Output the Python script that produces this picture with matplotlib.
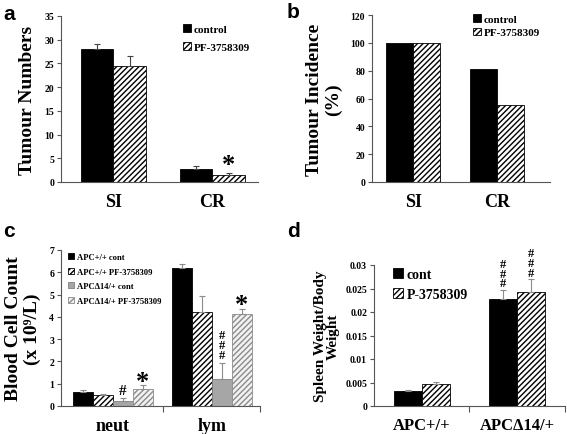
import numpy as np
import matplotlib
matplotlib.use("Agg")
import matplotlib.pyplot as plt

plt.rcParams['font.family'] = ['Liberation Serif', 'DejaVu Serif']
plt.rcParams['font.weight'] = 'bold'
plt.rcParams['axes.labelweight'] = 'bold'
plt.rcParams['hatch.linewidth'] = 1.0

# panel a - tumour numbers
sites = ['SI', 'CR']
a_control = [28.0, 2.7]
a_control_err = [1.2, 0.6]
a_pf = [24.4, 1.5]
a_pf_err = [2.2, 0.3]

# panel b - tumour incidence (%)
b_control = [100, 81]
b_pf = [100, 55.5]

# panel c - blood cell counts
cells = ['neut', 'lym']
c_labels = ['APC+/+ cont', 'APC+/+ PF-3758309', 'APCΔ14/+ cont', 'APCΔ14/+ PF-3758309']
c_values = [[0.62, 6.2], [0.50, 4.2], [0.22, 1.22], [0.75, 4.12]]
c_errors = [[0.08, 0.15], [0.03, 0.75], [0.15, 0.72], [0.20, 0.25]]

# panel d - spleen weight / body weight
genotypes = ['APC+/+', 'APCΔ14/+']
d_cont = [0.0032, 0.0227]
d_cont_err = [0.0003, 0.0020]
d_pf = [0.0046, 0.0243]
d_pf_err = [0.0006, 0.0027]

fig = plt.figure(figsize=(5.67, 4.35), dpi=100)
W, H = 567, 435


def make_axes(left, right, top, bottom):
    ax = fig.add_axes([left / W, 1 - bottom / H, (right - left) / W, (bottom - top) / H])
    ax.spines['top'].set_visible(False)
    ax.spines['right'].set_visible(False)
    for s in ['left', 'bottom']:
        ax.spines[s].set_color('#555555')
        ax.spines[s].set_linewidth(0.8)
    ax.tick_params(axis='y', labelsize=7, length=3, width=0.8, color='#555555', pad=2)
    ax.tick_params(axis='x', labelsize=13, length=0, pad=8)
    return ax


def up_err(e):
    e = np.asarray(e)
    return [np.zeros_like(e), e]


def hashes(ax, xpos, y, size=9):
    # three '#' stacked upright, as in the original
    ax.text(xpos, y, '#\n#\n#', ha='center', va='bottom', fontsize=size, linespacing=0.75)


ekw = dict(ecolor='#444444', elinewidth=0.8, capsize=2, capthick=0.8)

# ---- a ----
ax = make_axes(61, 258, 17, 183)
x = np.arange(2)
w = 0.33
ax.bar(x - w / 2, a_control, w, color='black', edgecolor='black', linewidth=0.6,
       yerr=up_err(a_control_err), error_kw=ekw, label='control')
ax.bar(x + w / 2, a_pf, w, color='white', edgecolor='black', linewidth=0.6, hatch='//////',
       yerr=up_err(a_pf_err), error_kw=ekw, label='PF-3758309')
ax.set_xlim(-0.53, 1.46)
ax.set_ylim(0, 35)
ax.set_yticks(range(0, 36, 5))
ax.set_xticks(x)
ax.set_xticklabels(sites)
ax.set_ylabel('Tumour Numbers', fontsize=14, labelpad=6)
ax.text(1 + w / 2, a_pf[1] + a_pf_err[1] - 0.6, '*', ha='center', va='bottom', fontsize=19)
ax.legend(loc='upper right', fontsize=8, frameon=False, handlelength=0.7, handleheight=0.7,
          handletextpad=0.3, borderaxespad=0.3, labelspacing=0.8, bbox_to_anchor=(1.0, 1.0))
fig.text(3 / W, 1 - 14 / H, 'a', fontsize=15, fontweight='bold', family='Liberation Sans', va='center')

# ---- b ----
ax = make_axes(372, 550, 16, 183)
w = 0.32
ax.bar(x - w / 2, b_control, w, color='black', edgecolor='black', linewidth=0.6, label='control')
ax.bar(x + w / 2, b_pf, w, color='white', edgecolor='black', linewidth=0.6, hatch='//////',
       label='PF-3758309')
ax.set_xlim(-0.49, 1.63)
ax.set_ylim(0, 120)
ax.set_yticks(range(0, 121, 20))
ax.set_xticks(x)
ax.set_xticklabels(sites)
ax.set_ylabel('Tumour Incidence\n(%)', fontsize=14, labelpad=6, linespacing=1.1)
ax.legend(loc='upper right', fontsize=8, frameon=False, handlelength=0.7, handleheight=0.7,
          handletextpad=0.3, borderaxespad=0.0, labelspacing=0.3, bbox_to_anchor=(0.97, 1.03))
fig.text(287 / W, 1 - 12 / H, 'b', fontsize=15, fontweight='bold', family='Liberation Sans', va='center')

# ---- c ----
ax = make_axes(61, 260, 251, 407)
w = 0.2
styles = [dict(color='black', edgecolor='black', hatch=None),
          dict(color='white', edgecolor='black', hatch='//////'),
          dict(color='#a6a6a6', edgecolor='#7f7f7f', hatch=None),
          dict(color='#f2f2f2', edgecolor='#8c8c8c', hatch='//////')]
for i in range(4):
    ax.bar(x + (i - 1.5) * w, c_values[i], w, linewidth=0.6, yerr=up_err(c_errors[i]),
           error_kw=dict(ecolor='#8c8c8c', elinewidth=0.8, capsize=2, capthick=0.8),
           label=c_labels[i], **styles[i])
ax.set_xlim(-0.525, 1.485)
ax.set_ylim(0, 7)
ax.set_yticks(range(0, 8))
ax.set_xticks(x)
ax.set_xticklabels(cells)
ax.set_xticks([0.505, 1.485], minor=True)
ax.tick_params(axis='x', which='minor', length=4, width=0.8, color='#555555', direction='out')
ax.set_ylabel('Blood Cell Count\n(x 10⁹/L)', fontsize=14, labelpad=6, linespacing=1.1)
ax.text(0.5 * w, c_values[2][0] + c_errors[2][0] + 0.05, '#', ha='center', va='bottom', fontsize=11)
ax.text(1.5 * w, c_values[3][0] + c_errors[3][0] - 0.35, '*', ha='center', va='bottom', fontsize=19)
hashes(ax, 1 + 0.5 * w, c_values[2][1] + c_errors[2][1] + 0.1)
ax.text(1 + 1.5 * w, c_values[3][1] + c_errors[3][1] - 0.35, '*', ha='center', va='bottom', fontsize=19)
ax.legend(loc='upper left', fontsize=6.2, frameon=False, handlelength=0.7, handleheight=0.7,
          handletextpad=0.3, borderaxespad=0.0, labelspacing=0.75, bbox_to_anchor=(0.02, 1.0))
fig.text(3 / W, 1 - 232 / H, 'c', fontsize=15, fontweight='bold', family='Liberation Sans', va='center')

# ---- d ----
ax = make_axes(374, 565, 266, 407)
w = 0.29
ax.bar(x - w / 2, d_cont, w, color='black', edgecolor='black', linewidth=0.6,
       yerr=up_err(d_cont_err), error_kw=dict(ekw, ecolor='#8c8c8c'), label='cont')
ax.bar(x + w / 2, d_pf, w, color='white', edgecolor='black', linewidth=0.6, hatch='//////',
       yerr=up_err(d_pf_err), error_kw=dict(ekw, ecolor='#8c8c8c'), label='P-3758309')
ax.set_xlim(-0.505, 1.505)
ax.set_ylim(0, 0.03)
ax.set_yticks([0, 0.005, 0.01, 0.015, 0.02, 0.025, 0.03])
ax.set_yticklabels(['0', '0.005', '0.01', '0.015', '0.02', '0.025', '0.03'])
ax.set_xticks(x)
ax.set_xticklabels(genotypes)
ax.set_xticks([0.5, 1.505], minor=True)
ax.tick_params(axis='x', which='minor', length=4, width=0.8, color='#555555', direction='out')
ax.tick_params(axis='x', labelsize=12)
ax.set_ylabel('Spleen Weight/Body\nWeight', fontsize=11, labelpad=4, linespacing=1.0)
hashes(ax, 1 - w / 2, d_cont[1] + d_cont_err[1] + 0.0001)
hashes(ax, 1 + w / 2, d_pf[1] + d_pf_err[1] + 0.0001)
ax.legend(loc='upper left', fontsize=10, frameon=False, handlelength=0.7, handleheight=0.7,
          handletextpad=0.3, borderaxespad=0.0, labelspacing=0.5, bbox_to_anchor=(0.07, 1.02))
fig.text(287 / W, 1 - 232 / H, 'd', fontsize=15, fontweight='bold', family='Liberation Sans', va='center')

fig.savefig('out.png', dpi=100)
